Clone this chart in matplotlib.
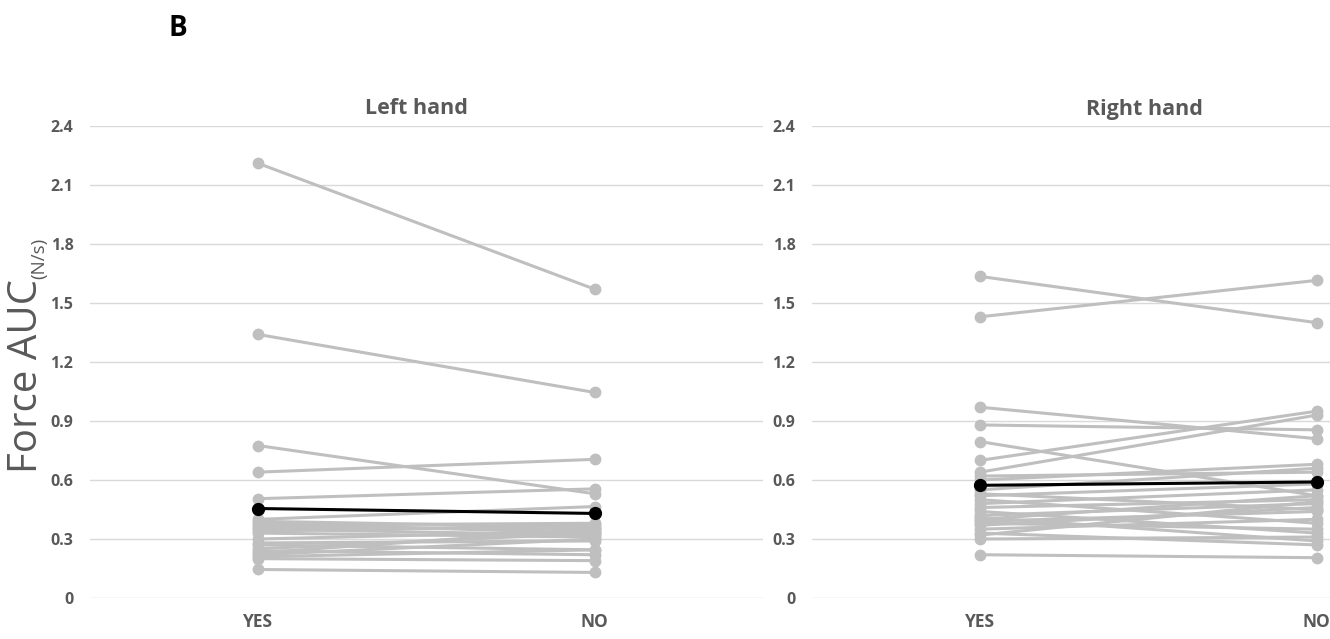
import matplotlib.pyplot as plt
import numpy as np

plt.rcParams['font.family'] = ['Open Sans', 'DejaVu Sans']

conditions = ["YES", "NO"]
yticks = [0, 0.3, 0.6, 0.9, 1.2, 1.5, 1.8, 2.1, 2.4]
ytick_labels = ["0", "0.3", "0.6", "0.9", "1.2", "1.5", "1.8", "2.1", "2.4"]

# left hand, one entry per subject
left_yes = [2.21, 1.34, 0.775, 0.64, 0.505, 0.40, 0.39, 0.38, 0.37, 0.36, 0.35, 0.34,
            0.33, 0.30, 0.28, 0.27, 0.25, 0.24, 0.23, 0.22, 0.21, 0.20, 0.145]
left_no = [1.57, 1.045, 0.53, 0.705, 0.555, 0.465, 0.36, 0.33, 0.38, 0.35, 0.32, 0.37,
           0.31, 0.34, 0.29, 0.245, 0.33, 0.22, 0.35, 0.30, 0.245, 0.19, 0.13]
left_mean = [0.455, 0.43]

# right hand
right_yes = [1.635, 1.43, 0.97, 0.88, 0.795, 0.70, 0.64, 0.62, 0.60, 0.55, 0.53, 0.52,
             0.50, 0.48, 0.46, 0.44, 0.42, 0.41, 0.40, 0.39, 0.38, 0.37, 0.35, 0.33,
             0.32, 0.30, 0.22]
right_no = [1.40, 1.615, 0.81, 0.855, 0.52, 0.95, 0.93, 0.64, 0.68, 0.66, 0.45, 0.58,
            0.38, 0.55, 0.50, 0.33, 0.48, 0.29, 0.52, 0.44, 0.35, 0.46, 0.40, 0.27,
            0.49, 0.31, 0.205]
right_mean = [0.573, 0.59]

GRAY = "#BFBFBF"
TXT = "#595959"

W, H = 1330, 639
fig = plt.figure(figsize=(W / 100, H / 100), dpi=100)


def px_box(x0, x1, ytop, ybot):
    return [x0 / W, 1 - ybot / H, (x1 - x0) / W, (ybot - ytop) / H]


def panel(ax, yes, no, mean):
    x = np.arange(len(conditions))
    for a, b in zip(yes, no):
        ax.plot(x, [a, b], color=GRAY, lw=2.2, marker="o", ms=7.5, clip_on=False, zorder=2)
    ax.plot(x, mean, color="black", lw=2.2, marker="o", ms=8.5, clip_on=False, zorder=3)
    ax.set_xlim(-0.5, 1.5)
    ax.set_ylim(0, 2.4)
    ax.set_yticks(yticks)
    ax.set_yticklabels(ytick_labels)
    ax.set_xticks(x)
    ax.set_xticklabels(conditions)
    ax.grid(axis="y", color="#D9D9D9", lw=1.0, zorder=0)
    ax.set_axisbelow(True)
    for s in ax.spines.values():
        s.set_visible(False)
    ax.tick_params(axis="y", length=0, pad=12, labelsize=11.5, labelcolor=TXT)
    ax.tick_params(axis="x", length=0, pad=11, labelsize=12.5, labelcolor=TXT)
    for lab in ax.get_xticklabels() + ax.get_yticklabels():
        lab.set_fontweight("bold")


ax1 = fig.add_axes(px_box(90, 763, 126, 598))
panel(ax1, left_yes, left_no, left_mean)
ax2 = fig.add_axes(px_box(812, 1485, 126, 598))
panel(ax2, right_yes, right_no, right_mean)

fig.text(416 / W, 1 - 108 / H, "Left hand", ha="center", va="center",
         fontsize=15.5, fontweight="bold", color=TXT)
fig.text(1144 / W, 1 - 110 / H, "Right hand", ha="center", va="center",
         fontsize=15.5, fontweight="bold", color=TXT)
fig.text(178 / W, 1 - 28 / H, "B", ha="center", va="center",
         fontsize=20, fontweight="bold", color="black")

fig.text(27 / W, 1 - 376 / H, "Force AUC", rotation=90, ha="center", va="center",
         fontsize=29, color=TXT)
fig.text(39 / W, 1 - 258 / H, "(N/s)", rotation=90, ha="center", va="center",
         fontsize=13.5, color=TXT)

fig.savefig("out.png", dpi=100)
